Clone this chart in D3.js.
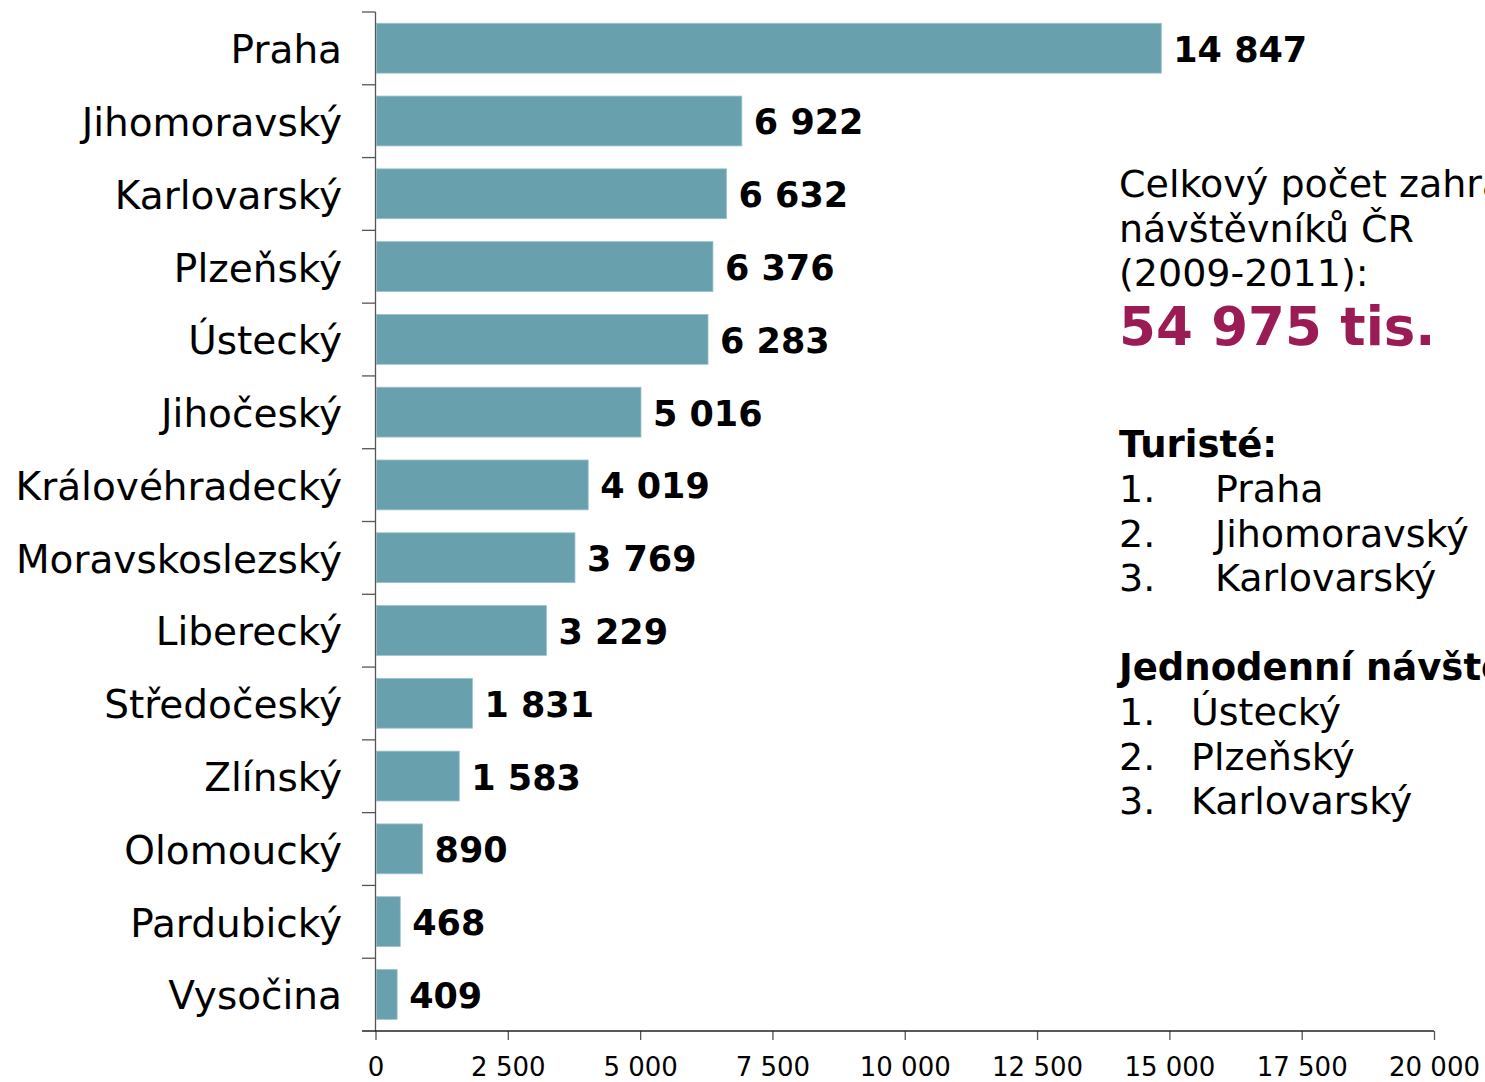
<!DOCTYPE html>
<html><head><meta charset="utf-8">
<script src="https://cdn.jsdelivr.net/npm/d3@7"></script>
<style>body{margin:0;background:#fff}svg{display:block;font-family:"DejaVu Sans",Verdana,sans-serif}</style>
</head><body><svg id="c" width="1485" height="1082"></svg>
<script>
const categories = ["Praha","Jihomoravský","Karlovarský","Plzeňský","Ústecký","Jihočeský","Královéhradecký","Moravskoslezský","Liberecký","Středočeský","Zlínský","Olomoucký","Pardubický","Vysočina"];
const values = [14847,6922,6632,6376,6283,5016,4019,3769,3229,1831,1583,890,468,409];
const xTicks = [0,2500,5000,7500,10000,12500,15000,17500,20000];
const titleLines = ["Celkový počet zahraničních","návštěvníků ČR","(2009-2011):"];
const totalText = "54 975 tis.";
const touristsHeader = "Turisté:";
const touristsTop = ["Praha","Jihomoravský","Karlovarský"];
const dayHeader = "Jednodenní návštěvníci:";
const dayTop = ["Ústecký","Plzeňský","Karlovarský"];

const svg = d3.select("#c");
const loc = d3.formatLocale({decimal:",",thousands:"\u00a0",grouping:[3],currency:["",""]});
const fmt = loc.format(",d");

const x = d3.scaleLinear().domain([0,20000]).range([375.5,1434]);
const y = d3.scaleBand().domain(categories).range([12,1031]).padding(0);
const step = y.step();

// bars
svg.append("g").selectAll("rect").data(categories).join("rect")
  .attr("x", x(0)+1)
  .attr("y", c => y(c) + step*0.155)
  .attr("width", (c,i) => x(values[i]) - x(0) - 1)
  .attr("height", step*0.685)
  .attr("fill", "#69a0ad")
  .attr("stroke", "#9cc2cc").attr("stroke-width", 0.8);

// value labels
svg.append("g").selectAll("text").data(categories).join("text")
  .attr("x", (c,i) => x(values[i]) + 12)
  .attr("y", c => y(c) + step/2)
  .attr("dy", "0.38em")
  .attr("font-size", 35).attr("font-weight", "bold").attr("fill", "#000")
  .text((c,i) => fmt(values[i]));

// category labels
svg.append("g").selectAll("text").data(categories).join("text")
  .attr("x", 342)
  .attr("y", c => y(c) + step/2)
  .attr("dy", "0.38em")
  .attr("text-anchor", "end")
  .attr("font-size", 39).attr("fill", "#000")
  .text(c => c);

// y axis line + boundary ticks
const gy = svg.append("g").attr("stroke", "#555").attr("stroke-width", 1.3);
gy.append("line").attr("x1", 375.5).attr("x2", 375.5).attr("y1", 12).attr("y2", 1031);
const bounds = categories.map(c => y(c));
gy.selectAll("line.t").data(bounds).join("line").attr("class","t")
  .attr("x1", 362).attr("x2", 375.5).attr("y1", d => d).attr("y2", d => d);

// x axis
const xAxis = d3.axisBottom(x).tickValues(xTicks).tickFormat(fmt).tickSize(9).tickPadding(18).tickSizeOuter(0);
const gx = svg.append("g").attr("transform", "translate(0,1031)").call(xAxis);
gx.select(".domain").remove();
gx.append("line").attr("x1", 362).attr("x2", 1434).attr("y1", 0).attr("y2", 0).attr("stroke", "#222").attr("stroke-width", 1.3);
gx.selectAll(".tick line").attr("stroke", "#555").attr("stroke-width", 1.3);
gx.selectAll(".tick text").attr("font-size", 26).attr("fill", "#000").attr("font-family", '"DejaVu Sans",Verdana,sans-serif');

// side text
const tx = 1119;
const side = svg.append("g").attr("fill", "#000");
titleLines.forEach((t,i) => side.append("text").attr("x", tx).attr("y", 197 + i*44.5).attr("font-size", 38).text(t));
side.append("text").attr("x", tx).attr("y", 345).attr("font-size", 53).attr("font-weight", "bold").attr("fill", "#9b1c55").text(totalText);
side.append("text").attr("x", tx).attr("y", 457).attr("font-size", 37).attr("font-weight", "bold").text(touristsHeader);
touristsTop.forEach((t,i) => {
  side.append("text").attr("x", tx).attr("y", 502 + i*44.5).attr("font-size", 38).text((i+1)+".");
  side.append("text").attr("x", 1215).attr("y", 502 + i*44.5).attr("font-size", 38).text(t);
});
side.append("text").attr("x", tx).attr("y", 680).attr("font-size", 37).attr("font-weight", "bold").text(dayHeader);
dayTop.forEach((t,i) => {
  side.append("text").attr("x", tx).attr("y", 725 + i*44.5).attr("font-size", 38).text((i+1)+".");
  side.append("text").attr("x", 1191).attr("y", 725 + i*44.5).attr("font-size", 38).text(t);
});
</script></body></html>
